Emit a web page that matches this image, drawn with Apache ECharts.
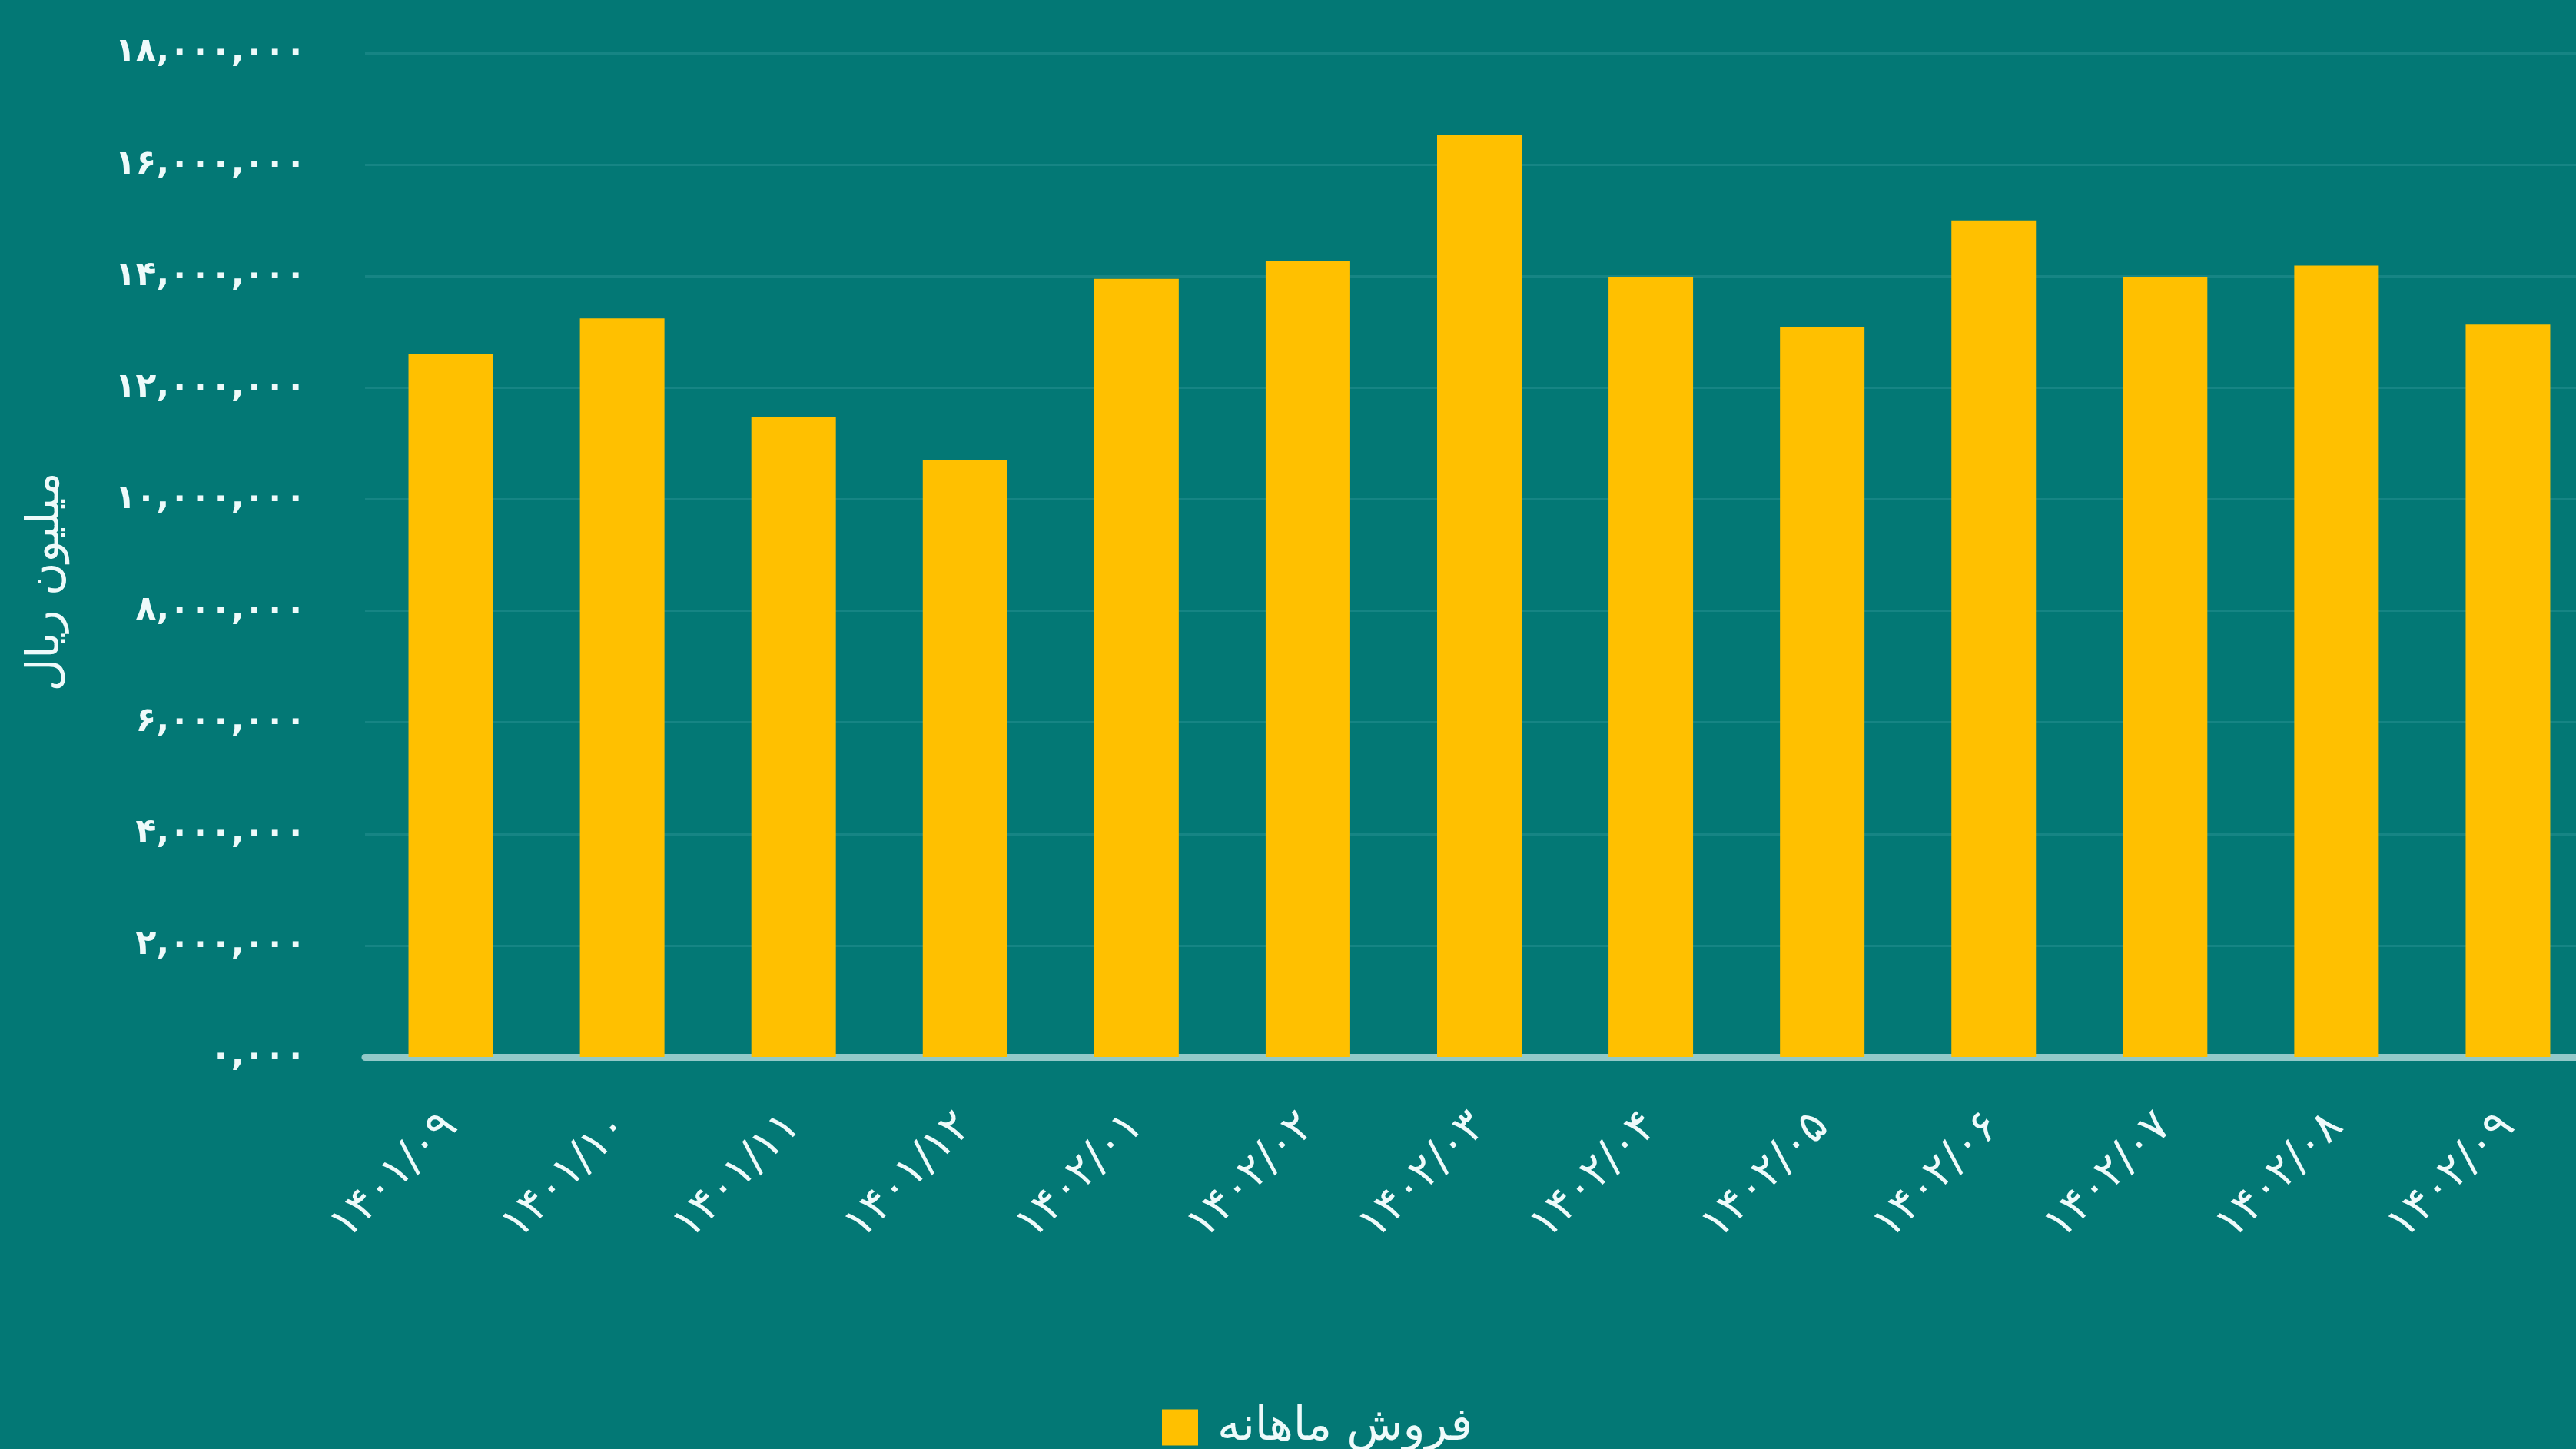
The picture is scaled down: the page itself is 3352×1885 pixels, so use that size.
<!DOCTYPE html>
<html>
<head>
<meta charset="utf-8">
<title>فروش ماهانه</title>
<script src="https://cdn.jsdelivr.net/npm/echarts@6/dist/echarts.min.js"></script>
<style>
  html, body {
    margin: 0;
    padding: 0;
    background: #037875;
    overflow: hidden;
  }
  /* the plot runs past the right edge of the picture, so the chart is wider than the page */
  #chart {
    width: 3375px;
    height: 1885px;
  }
</style>
</head>
<body>
<div id="chart"></div>
<script>
  // ماه‌ها (محور افقی)
  const months = [
    '۱۴۰۱/۰۹', '۱۴۰۱/۱۰', '۱۴۰۱/۱۱', '۱۴۰۱/۱۲', '۱۴۰۲/۰۱', '۱۴۰۲/۰۲', '۱۴۰۲/۰۳',
    '۱۴۰۲/۰۴', '۱۴۰۲/۰۵', '۱۴۰۲/۰۶', '۱۴۰۲/۰۷', '۱۴۰۲/۰۸', '۱۴۰۲/۰۹'
  ];
  // فروش ماهانه - میلیون ریال
  const monthlySales = [
    12600000, 13240000, 11480000, 10710000, 13950000, 14270000, 16530000,
    13990000, 13090000, 15000000, 13990000, 14190000, 13130000
  ];
  // برچسب‌های محور عمودی
  const yTickLabels = [
    '۰,۰۰۰', '۲,۰۰۰,۰۰۰', '۴,۰۰۰,۰۰۰', '۶,۰۰۰,۰۰۰', '۸,۰۰۰,۰۰۰',
    '۱۰,۰۰۰,۰۰۰', '۱۲,۰۰۰,۰۰۰', '۱۴,۰۰۰,۰۰۰', '۱۶,۰۰۰,۰۰۰', '۱۸,۰۰۰,۰۰۰'
  ];
  const yStep = 2000000;
  const seriesName = 'فروش ماهانه';
  const yName = 'میلیون ریال';

  const font = '"DejaVu Sans", sans-serif';
  const textColor = '#eefafa';

  const myChart = echarts.init(document.getElementById('chart'), null, { renderer: 'canvas' });

  myChart.setOption({
    backgroundColor: '#037875',
    textStyle: { fontFamily: font },
    grid: {
      left: 475,
      right: 0,
      top: 69,
      bottom: 510,
      containLabel: false
    },
    legend: {
      data: [seriesName],
      icon: 'rect',
      itemWidth: 47,
      itemHeight: 47,
      left: 1507,
      top: 1822,
      textStyle: {
        fontFamily: font,
        fontSize: 60,
        color: textColor,
        padding: [0, 0, 14, 20]
      }
    },
    xAxis: {
      type: 'category',
      data: months,
      axisTick: { show: false },
      axisLine: {
        lineStyle: { color: '#93c9c9', width: 9 }
      },
      axisLabel: {
        interval: 0,
        rotate: 45,
        margin: 82,
        fontSize: 58,
        fontFamily: font,
        color: textColor
      }
    },
    yAxis: {
      type: 'value',
      min: 0,
      max: 18000000,
      interval: yStep,
      name: yName,
      nameLocation: 'middle',
      nameRotate: 90,
      nameGap: 385,
      nameTextStyle: {
        fontFamily: font,
        fontSize: 59,
        color: textColor,
        padding: [0, 70, 0, 0]
      },
      axisLine: { show: false },
      axisTick: { show: false },
      splitLine: {
        lineStyle: { color: '#168584', width: 3 }
      },
      axisLabel: {
        margin: 77,
        fontSize: 44,
        fontWeight: 'bold',
        fontFamily: font,
        color: textColor,
        padding: [0, 0, 22, 0],
        formatter: function (v) {
          return yTickLabels[Math.round(v / yStep)];
        }
      }
    },
    series: [
      {
        name: seriesName,
        type: 'bar',
        data: monthlySales,
        barWidth: 110,
        itemStyle: { color: '#ffc000' }
      }
    ]
  });
</script>
</body>
</html>
